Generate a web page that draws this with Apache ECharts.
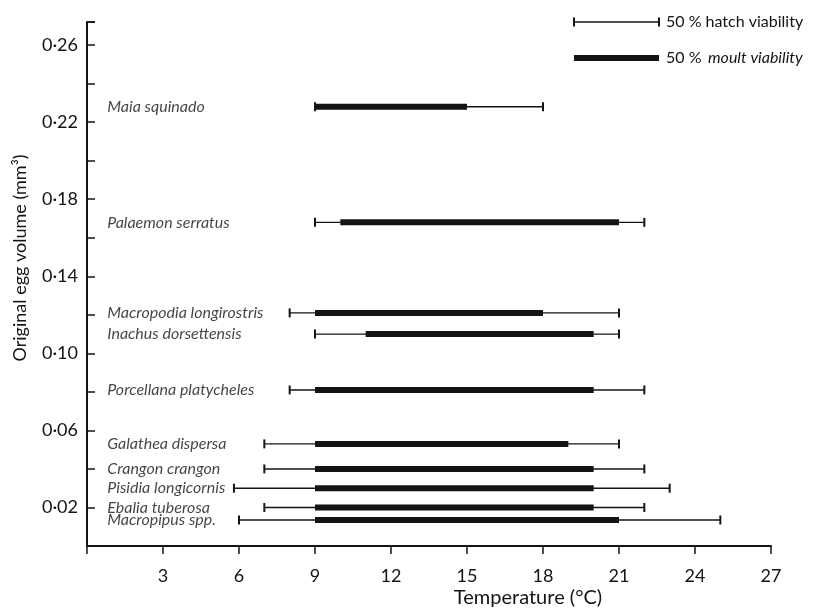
<!DOCTYPE html>
<html>
<head>
<meta charset="utf-8">
<script src="https://cdn.jsdelivr.net/npm/echarts@6/dist/echarts.min.js"></script>
<style>
html,body{margin:0;padding:0;background:#fff;}
#chart{width:819px;height:611px;}
</style>
</head>
<body>
<div id="chart"></div>
<script>
// ---- data ----
const species = ['Maia squinado','Palaemon serratus','Macropodia longirostris','Inachus dorsettensis','Porcellana platycheles','Galathea dispersa','Crangon crangon','Pisidia longicornis','Ebalia tuberosa','Macropipus spp.'];
const eggVolume = [0.228, 0.168, 0.121, 0.110, 0.081, 0.053, 0.040, 0.030, 0.020, 0.0135];
const hatchMin = [9, 9, 8, 9, 8, 7, 7, 5.8, 7, 6];
const hatchMax = [18, 22, 21, 21, 22, 21, 22, 23, 22, 25];
const moultMin = [9, 10, 9, 11, 9, 9, 9, 9, 9, 9];
const moultMax = [15, 21, 18, 20, 20, 19, 20, 20, 20, 21];
const xTicks = [3, 6, 9, 12, 15, 18, 21, 24, 27];
const yTickLabels = [0.02, 0.06, 0.10, 0.14, 0.18, 0.22, 0.26];

const INK = '#141414';
const FONT = 'Lato, "Open Sans", sans-serif';

const rangeData = species.map((s, i) => [eggVolume[i], hatchMin[i], hatchMax[i], moultMin[i], moultMax[i]]);
const labelData = species.map((s, i) => [0.8, eggVolume[i], s]);

const chart = echarts.init(document.getElementById('chart'), null, {renderer: 'canvas'});
chart.setOption({
  backgroundColor: '#fff',
  animation: false,
  grid: {left: 87, right: 48, top: 22, bottom: 65, containLabel: false},
  xAxis: {
    type: 'value', min: 0, max: 27, interval: 3,
    axisLine: {show: true, onZero: false, lineStyle: {color: INK, width: 2}},
    axisTick: {show: true, inside: false, length: 8, lineStyle: {color: INK, width: 1.5}},
    axisLabel: {
      color: INK, fontFamily: FONT, fontSize: 18, margin: 21,
      formatter: v => xTicks.indexOf(v) >= 0 ? String(v) : ''
    },
    splitLine: {show: false}
  },
  yAxis: {
    type: 'value', min: 0, max: 0.272, interval: 0.02,
    axisLine: {show: true, onZero: false, lineStyle: {color: INK, width: 2}},
    axisTick: {show: true, inside: true, length: 8, lineStyle: {color: INK, width: 1.5}},
    axisLabel: {
      color: INK, fontFamily: FONT, fontSize: 18, margin: 9,
      formatter: v => {
        const hit = yTickLabels.find(t => Math.abs(t - v) < 1e-6);
        return hit !== undefined ? hit.toFixed(2).replace('.', '·') : '';
      }
    },
    splitLine: {show: false}
  },
  series: [
    {
      type: 'custom',
      data: rangeData,
      encode: {x: [1, 2, 3, 4], y: 0},
      renderItem: function (params, api) {
        const y = api.value(0);
        const h1 = api.coord([api.value(1), y]);
        const h2 = api.coord([api.value(2), y]);
        const m1 = api.coord([api.value(3), y]);
        const m2 = api.coord([api.value(4), y]);
        const cap = 4.5;
        return {
          type: 'group',
          children: [
            {type: 'line', shape: {x1: h1[0], y1: h1[1], x2: h2[0], y2: h2[1]}, style: {stroke: INK, lineWidth: 1.4}},
            {type: 'line', shape: {x1: h1[0], y1: h1[1] - cap, x2: h1[0], y2: h1[1] + cap}, style: {stroke: INK, lineWidth: 2}},
            {type: 'line', shape: {x1: h2[0], y1: h2[1] - cap, x2: h2[0], y2: h2[1] + cap}, style: {stroke: INK, lineWidth: 2}},
            {type: 'rect', shape: {x: m1[0], y: m1[1] - 3, width: m2[0] - m1[0], height: 6}, style: {fill: INK}}
          ]
        };
      }
    },
    {
      type: 'scatter',
      data: labelData,
      symbolSize: 0,
      silent: true,
      label: {
        show: true, position: 'right', distance: 0,
        formatter: p => p.data[2],
        color: INK, fontFamily: FONT, fontStyle: 'italic', fontSize: 16
      }
    }
  ],
  graphic: [
    // y axis top end tick
    {type: 'line', shape: {x1: 87, y1: 22, x2: 95, y2: 22}, style: {stroke: INK, lineWidth: 1.5}},
    // axis names
    {type: 'text', x: 20, y: 258, rotation: Math.PI / 2,
      style: {text: 'Original egg volume (mm³)', fill: INK, font: '18px ' + FONT, textAlign: 'center', textVerticalAlign: 'middle'}},
    {type: 'text', x: 528, y: 598,
      style: {text: 'Temperature (°C)', fill: INK, font: '20px ' + FONT, textAlign: 'center', textVerticalAlign: 'middle'}},
    // legend
    {type: 'line', shape: {x1: 574, y1: 22, x2: 659, y2: 22}, style: {stroke: INK, lineWidth: 1.4}},
    {type: 'line', shape: {x1: 574, y1: 17.5, x2: 574, y2: 26.5}, style: {stroke: INK, lineWidth: 2}},
    {type: 'line', shape: {x1: 659, y1: 17.5, x2: 659, y2: 26.5}, style: {stroke: INK, lineWidth: 2}},
    {type: 'text', x: 666, y: 22,
      style: {text: '50 % hatch viability', fill: INK, font: '16px ' + FONT, textVerticalAlign: 'middle'}},
    {type: 'rect', shape: {x: 574, y: 55, width: 85, height: 6}, style: {fill: INK}},
    {type: 'text', x: 666, y: 58,
      style: {text: '50 %', fill: INK, font: '16px ' + FONT, textVerticalAlign: 'middle'}},
    {type: 'text', x: 708, y: 58,
      style: {text: 'moult viability', fill: INK, font: 'italic 16px ' + FONT, textVerticalAlign: 'middle'}}
  ]
});
</script>
</body>
</html>
